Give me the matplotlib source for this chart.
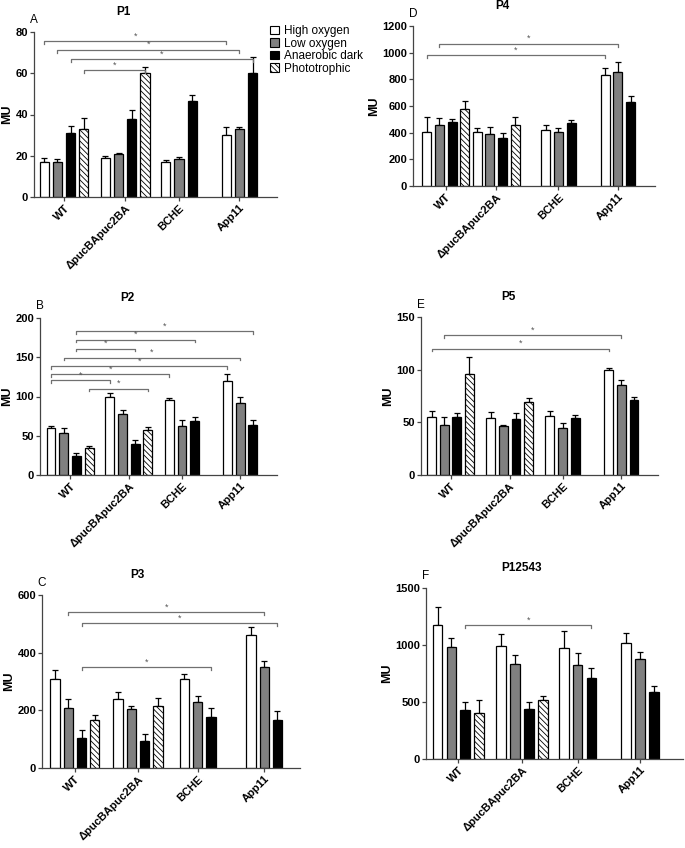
import numpy as np
import matplotlib
matplotlib.use('Agg')
import matplotlib.pyplot as plt
from matplotlib.patches import Patch

plt.rcParams['font.family'] = ['Liberation Sans', 'DejaVu Sans']
plt.rcParams['hatch.linewidth'] = 0.6

strains = ['WT', 'ΔpucBApuc2BA', 'BCHE', 'App11']
conditions = ['High oxygen', 'Low oxygen', 'Anaerobic dark', 'Phototrophic']

# mean values, one list per strain (App11 / BCHE have no phototrophic value)
p1_mean = [[17, 17, 31, 33], [19, 21, 38, 60], [17, 18.5, 46.5], [30, 33, 60]]
p1_err = [[2, 1.5, 3.5, 5.5], [1, 0.5, 4, 3], [0.8, 0.7, 3], [4, 1, 8]]

p2_mean = [[60, 54, 24.5, 34], [100, 77.5, 40, 57.5], [95, 62, 68.5], [120, 92, 63.5]]
p2_err = [[3, 6, 3.5, 2.5], [5, 5, 4.5, 3.5], [3.5, 8, 5.5], [9, 8, 6.5]]

p3_mean = [[307, 209, 104, 166], [238, 204, 93, 215], [308, 228, 177], [461, 350, 168]]
p3_err = [[32, 31, 27, 17], [25, 11, 26, 27], [17, 21, 32], [27, 21, 29]]

p4_mean = [[406, 454, 479, 576], [403, 393, 363, 454], [421, 408, 474], [830, 852, 632]]
p4_err = [[115, 57, 20, 58], [33, 50, 38, 67], [40, 25, 22], [52, 80, 40]]

p5_mean = [[54.6, 47.4, 55.3, 95.7], [54.3, 46.7, 52.7, 69.5], [55.6, 44.8, 53.7], [100, 85.3, 71.4]]
p5_err = [[5.7, 7.2, 4, 16.7], [5.7, 1, 5.7, 4], [5.4, 4.1, 2.8], [2, 4.7, 2.8]]

p6_mean = [[1175, 982, 427, 406], [991, 833, 441, 517], [971, 825, 713], [1018, 874, 585]]
p6_err = [[155, 82, 73, 114], [108, 76, 62, 36], [155, 108, 82], [87, 67, 55]]

# significance brackets: ((strain, condition), (strain, condition), height)
p1_sig = [((0, 0), (3, 0), 75.6), ((0, 1), (3, 1), 71.5), ((0, 2), (3, 2), 66.7), ((0, 3), (1, 3), 61.5)]
p2_sig = [((0, 2), (3, 2), 183), ((0, 2), (2, 2), 172.5), ((0, 2), (1, 2), 161),
          ((0, 1), (3, 1), 149.6), ((0, 0), (3, 0), 139), ((0, 0), (2, 0), 128.8),
          ((0, 0), (1, 0), 120.8), ((0, 3), (1, 3), 110)]
p3_sig = [((0, 1), (3, 1), 540), ((0, 2), (3, 2), 502), ((0, 2), (2, 2), 349)]
p4_sig = [((0, 1), (3, 1), 1067), ((0, 0), (3, 0), 980)]
p5_sig = [((0, 1), (3, 1), 133), ((0, 0), (3, 0), 120)]
p6_sig = [((0, 2), (2, 2), 1172)]

W, H = 685, 848
fig = plt.figure(figsize=(W / 100, H / 100), dpi=100)

fills = ['white', '#808080', 'black', 'white']
hatches = [None, None, None, '\\\\\\\\\\\\']


def panel(box, letter, title, mean, err, sig, ymax, yticks, starts, xlim):
    l, t, r, b = box
    ax = fig.add_axes([l / W, 1 - b / H, (r - l) / W, (b - t) / H])
    centers = []
    for g in range(len(mean)):
        xs = starts[g] + np.arange(len(mean[g]))
        centers.append(xs)
        for j, x in enumerate(xs):
            ax.bar(x, mean[g][j], 0.7, color=fills[j], edgecolor='black',
                   linewidth=0.9, hatch=hatches[j], zorder=2)
            ax.errorbar(x, mean[g][j], yerr=[[0], [err[g][j]]], fmt='none',
                        ecolor='black', elinewidth=0.9, capsize=2, capthick=0.9, zorder=1)
    tk = ymax * 0.018
    for (g1, c1), (g2, c2), y in sig:
        x1, x2 = centers[g1][c1], centers[g2][c2]
        ax.plot([x1, x1, x2, x2], [y - tk, y, y, y - tk], color='#707070', lw=0.9,
                clip_on=False, zorder=3)
        ax.text((x1 + x2) / 2, y + ymax * 0.004, '*', ha='center', va='bottom',
                fontsize=6.5, color='#555555')
    ax.set_xlim(*xlim)
    ax.set_ylim(0, ymax)
    ax.set_yticks(yticks)
    ax.set_xticks([c.mean() for c in centers])
    ax.set_xticklabels(strains, rotation=45, ha='right', rotation_mode='anchor',
                       fontsize=8, fontweight='bold')
    for lab in ax.get_yticklabels():
        lab.set_fontweight('bold')
        lab.set_fontsize(8)
    ax.spines['top'].set_visible(False)
    ax.spines['right'].set_visible(False)
    for s in ['left', 'bottom']:
        ax.spines[s].set_color('#444444')
        ax.spines[s].set_linewidth(0.9)
    ax.tick_params(length=3, width=0.9, color='#444444', pad=1.2)
    ax.set_ylabel('MU', fontsize=9, fontweight='bold', labelpad=1.5)
    ax.text(0.37, 1 + 20 / (b - t), title, transform=ax.transAxes, ha='center',
            va='center', fontsize=8.5, fontweight='bold')
    ax.text(0.0, 1 + 12 / (b - t), letter, transform=ax.transAxes, ha='center',
            va='center', fontsize=8.5)
    return ax


panel((34, 32, 277, 197), 'A', 'P1', p1_mean, p1_err, p1_sig, 80, [0, 20, 40, 60, 80],
      [0, 4.64, 9.22, 13.8], (-0.78, 17.65))
panel((40, 318, 277, 475), 'B', 'P2', p2_mean, p2_err, p2_sig, 200, [0, 50, 100, 150, 200],
      [0, 4.63, 9.32, 13.9], (-0.87, 17.8))
panel((42, 595, 300, 768), 'C', 'P3', p3_mean, p3_err, p3_sig, 600, [0, 200, 400, 600],
      [0, 4.75, 9.75, 14.75], (-0.98, 18.45))
panel((413, 26, 655, 186), 'D', 'P4', p4_mean, p4_err, p4_sig, 1200, range(0, 1201, 200),
      [0, 3.97, 9.37, 14.05], (-1.08, 17.97))
panel((421, 317, 658, 475), 'E', 'P5', p5_mean, p5_err, p5_sig, 150, [0, 50, 100, 150],
      [0, 4.68, 9.37, 14.03], (-0.84, 17.93))
panel((426, 588, 683, 759), 'F', 'P12543', p6_mean, p6_err, p6_sig, 1500, [0, 500, 1000, 1500],
      [0, 4.6, 9.1, 13.6], (-0.83, 17.7))

handles = [Patch(facecolor=fills[j], edgecolor='black', linewidth=0.8, hatch=hatches[j])
           for j in range(4)]
fig.legend(handles, conditions, loc='upper left', bbox_to_anchor=(270 / W, 1 - 25 / H),
           frameon=False, fontsize=8.5, borderpad=0, labelspacing=0.05, handlelength=0.75,
           handleheight=0.75, handletextpad=0.4, borderaxespad=0)

fig.savefig('out.png', dpi=100)
